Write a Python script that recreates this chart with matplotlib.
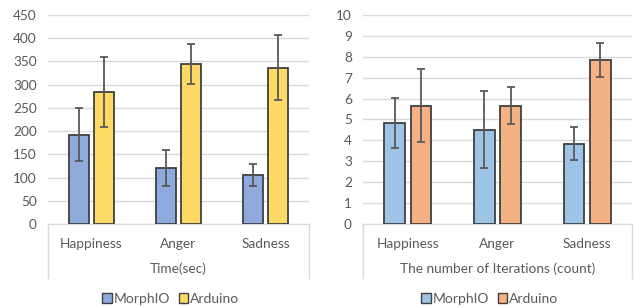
import matplotlib
matplotlib.use("Agg")
import matplotlib.pyplot as plt
import numpy as np
from matplotlib.patches import Patch

plt.rcParams['font.family'] = ['Lato', 'DejaVu Sans']

categories = ["Happiness", "Anger", "Sadness"]
series = ["MorphIO", "Arduino"]

time_morphio = [192, 120, 105]
time_morphio_err = [57, 39, 24]
time_arduino = [284, 344, 336]
time_arduino_err = [76, 43, 70]

iter_morphio = [4.83, 4.52, 3.83]
iter_morphio_err = [1.21, 1.85, 0.79]
iter_arduino = [5.66, 5.66, 7.84]
iter_arduino_err = [1.76, 0.89, 0.80]

left_colors = ["#8FAADC", "#FFD966"]
right_colors = ["#9DC3E6", "#F4B183"]
tick_color = "#595959"
grid_color = "#D9D9D9"

W, H = 634, 307
fig = plt.figure(figsize=(W / 100, H / 100), dpi=100)


def panel(rect, m, me, a, ae, ymax, ystep, colors, xlabel):
    ax = fig.add_axes(rect)
    x = np.arange(len(categories))
    bw = 0.23
    off = 0.148
    for vals, errs, c, dx in ((m, me, colors[0], -off), (a, ae, colors[1], off)):
        ax.bar(x + dx, vals, width=bw, color=c, edgecolor="#404040", linewidth=1.3, zorder=3)
        ax.errorbar(x + dx, vals, yerr=errs, fmt="none", ecolor="#595959",
                    elinewidth=1.3, capsize=3, capthick=1.3, zorder=4)
    ax.set_xlim(-0.5, len(categories) - 0.5)
    ax.set_ylim(0, ymax)
    ax.set_yticks(np.arange(0, ymax + ystep / 2, ystep))
    ax.yaxis.grid(True, color=grid_color, linewidth=1.0, zorder=0)
    ax.set_axisbelow(True)
    for s in ("top", "right", "left"):
        ax.spines[s].set_visible(False)
    ax.spines["bottom"].set_color(grid_color)
    ax.tick_params(axis="both", length=0, colors=tick_color, labelsize=9.8)
    ax.tick_params(axis="y", pad=8)
    ax.tick_params(axis="x", pad=10)
    ax.set_xticks(x)
    ax.set_xticklabels(categories)
    ax.set_xlabel(xlabel, color=tick_color, fontsize=9.8, labelpad=9)
    # category box side lines
    depth = 54 / (rect[3] * H)
    for xx in (0, 1):
        ax.plot([xx, xx], [0, -depth], transform=ax.transAxes, color=grid_color,
                linewidth=1.0, clip_on=False)
    handles = [Patch(facecolor=colors[i], edgecolor="#404040", linewidth=1.0, label=series[i])
               for i in range(2)]
    cx = rect[0] + rect[2] / 2 - 0.012
    fig.legend(handles=handles, loc="center", bbox_to_anchor=(cx, 8 / H), ncol=2,
               frameon=False, fontsize=10, handlelength=0.7, handleheight=0.7,
               handletextpad=0.15, columnspacing=0.6, labelcolor=tick_color)
    return ax


panel([48 / W, (H - 224) / H, 261 / W, 209 / H], time_morphio, time_morphio_err,
      time_arduino, time_arduino_err, 450, 50, left_colors, "Time(sec)")
panel([363 / W, (H - 224) / H, 269 / W, 209 / H], iter_morphio, iter_morphio_err,
      iter_arduino, iter_arduino_err, 10, 1, right_colors, "The number of Iterations (count)")

fig.savefig("out.png", dpi=100)
